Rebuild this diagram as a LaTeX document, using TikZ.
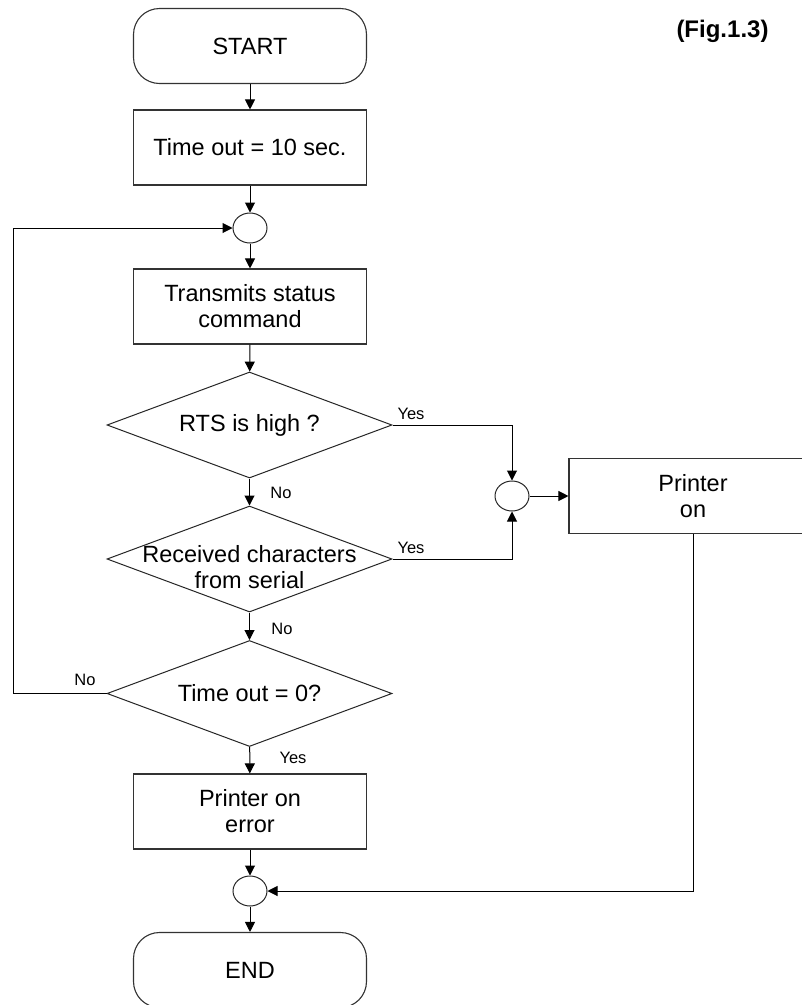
\documentclass[tikz,border=0pt]{standalone}
\usepackage{fontspec}
\setmainfont{Liberation Sans}
\usetikzlibrary{shapes.geometric,arrows.meta}
\tikzset{
  x=1pt,y=-1pt,
  every node/.style={font=\fontsize{23.5}{26}\selectfont},
  procbox/.style={draw=black!80,line width=1.1pt,rectangle,minimum width=233,minimum height=75,inner sep=0,align=center},
  termbox/.style={procbox,rounded corners=26},
  decision/.style={draw=black!85,line width=1pt,diamond,minimum width=285,minimum height=106,aspect=2.69,inner sep=0},
  dtext/.style={inner sep=0,align=center,font=\fontsize{23.5}{26}\selectfont},
  joint/.style={draw=black!85,line width=1pt,ellipse,minimum width=34,minimum height=30,inner sep=0},
  flow/.style={line width=1pt,-{Triangle[length=10,width=10]}},
  lbl/.style={font=\fontsize{16.5}{18}\selectfont,inner sep=0},
}
\begin{document}
\begin{tikzpicture}
\clip (0,0) rectangle (802,1005);
\fill[white] (0,0) rectangle (802,1005);

\node[termbox] (start) at (250,46) {START};
\node[procbox] (tout) at (250,147.5) {Time out = 10 sec.};
\node[joint] (c1) at (250,228) {};
\node[procbox] (trans) at (250,306.5) {Transmits status\\command};
\node[decision] (d1) at (249.5,425) {};
\node[dtext] (d1t) at (249.5,425) {RTS is high ?};
\node[decision] (d2) at (249.5,559) {};
\node[dtext] (d2t) at (249.5,567) {Received characters\\from serial};
\node[decision] (d3) at (249.5,693.5) {};
\node[dtext] (d3t) at (249.5,693.5) {Time out = 0?};
\node[procbox] (err) at (250,811.5) {Printer on\\error};
\node[joint] (c3) at (250,891) {};
\node[termbox] (fin) at (250,970) {END};
\node[joint] (c2) at (512,496) {};
\node[procbox,minimum width=248] (pon) at (693,496) {Printer\\on};
\node[font=\bfseries\fontsize{24}{26}\selectfont,inner sep=0] (fig) at (722.5,31) {(Fig.1.3)};

\coordinate (loopL) at (13,693.5);

\draw[flow] (start) -- (tout);
\draw[flow] (tout) -- (c1);
\draw[flow] (c1) -- (trans);
\draw[flow] (trans) -- (d1);
\draw[flow] (d1) -- (d2);
\draw[flow] (d2) -- (d3);
\draw[flow] (d3) -- (err);
\draw[flow] (err) -- (c3);
\draw[flow] (c3) -- (fin);
\draw[flow] (d3.west) -- (loopL) |- (c1.west);
\draw[flow] (d1.east) -| (c2.north);
\draw[flow] (d2.east) -| (c2.south);
\draw[flow] (c2.east) -- (pon.west);
\draw[flow] (pon.south) |- (c3.east);

\node[lbl] (no1) at (281,493) {No};
\node[lbl] (no2) at (282,629) {No};
\node[lbl] (no3) at (85,680) {No};
\node[lbl] (yes1) at (411,414) {Yes};
\node[lbl] (yes2) at (411,548) {Yes};
\node[lbl] (yes3) at (293,758) {Yes};
\end{tikzpicture}
\end{document}
